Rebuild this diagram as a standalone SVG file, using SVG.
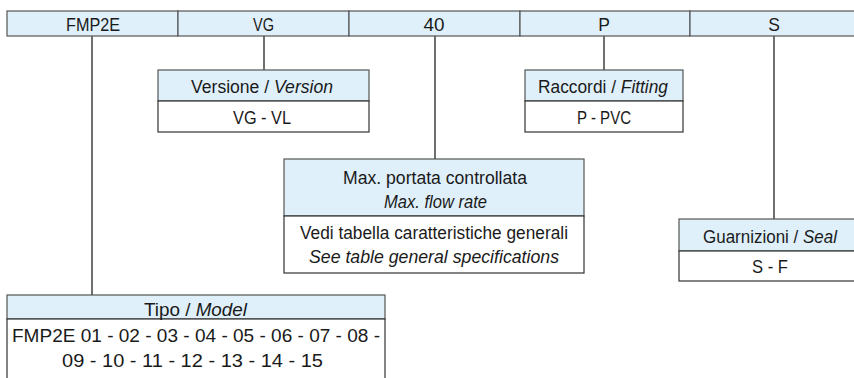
<svg xmlns="http://www.w3.org/2000/svg" width="854" height="378" viewBox="0 0 854 378">
<style>
.hd{fill:#dff0fa;stroke:#555;stroke-width:1.2}
.bd{fill:#fff;stroke:#333;stroke-width:1.2}
.ln{stroke:#333;stroke-width:1.4;fill:none}
text{font-family:"Liberation Sans",Arial,sans-serif;font-size:17.5px;fill:#1a1a1a;text-anchor:middle}
.it{font-style:italic}
</style>
<rect width="854" height="378" fill="#fff"/>
<g id="connectors">
<line class="ln" x1="92" y1="36" x2="92" y2="295"/>
<line class="ln" x1="264" y1="36" x2="264" y2="70"/>
<line class="ln" x1="435" y1="36" x2="435" y2="159"/>
<line class="ln" x1="604" y1="36" x2="604" y2="70"/>
<line class="ln" x1="774" y1="36" x2="774" y2="219"/>
</g>
<g id="header">
<rect class="hd" x="7" y="11" width="171" height="25"/>
<rect class="hd" x="178" y="11" width="171" height="25"/>
<rect class="hd" x="349" y="11" width="171" height="25"/>
<rect class="hd" x="520" y="11" width="170" height="25"/>
<rect class="hd" x="690" y="11" width="170" height="25"/>
<text x="93" y="31" textLength="54" lengthAdjust="spacingAndGlyphs">FMP2E</text>
<text x="263.5" y="31" textLength="21" lengthAdjust="spacingAndGlyphs">VG</text>
<text x="434" y="31" textLength="21" lengthAdjust="spacingAndGlyphs">40</text>
<text x="604" y="31">P</text>
<text x="774" y="31">S</text>
</g>
<g id="versione">
<rect class="hd" x="158" y="70" width="211" height="31"/>
<rect class="bd" x="158" y="101" width="211" height="31"/>
<text x="262" y="93" textLength="142" lengthAdjust="spacingAndGlyphs">Versione / <tspan class="it">Version</tspan></text>
<text x="262" y="124" textLength="58" lengthAdjust="spacingAndGlyphs">VG - VL</text>
</g>
<g id="raccordi">
<rect class="hd" x="525" y="70" width="158" height="31"/>
<rect class="bd" x="525" y="101" width="158" height="31"/>
<text x="603" y="93" textLength="130" lengthAdjust="spacingAndGlyphs">Raccordi / <tspan class="it">Fitting</tspan></text>
<text x="604" y="124" textLength="54" lengthAdjust="spacingAndGlyphs">P - PVC</text>
</g>
<g id="portata">
<rect class="hd" x="284" y="159" width="300" height="57"/>
<rect class="bd" x="284" y="216" width="300" height="57"/>
<text x="435" y="184" textLength="184" lengthAdjust="spacingAndGlyphs">Max. portata controllata</text>
<text x="435.5" y="208" class="it" textLength="103" lengthAdjust="spacingAndGlyphs">Max. flow rate</text>
<text x="434" y="239" textLength="268" lengthAdjust="spacingAndGlyphs">Vedi tabella caratteristiche generali</text>
<text x="434" y="263" class="it" textLength="250" lengthAdjust="spacingAndGlyphs">See table general specifications</text>
</g>
<g id="guarnizioni">
<rect class="hd" x="679" y="219" width="182" height="32"/>
<rect class="bd" x="679" y="251" width="182" height="30"/>
<text x="770" y="243" textLength="134" lengthAdjust="spacingAndGlyphs">Guarnizioni / <tspan class="it">Seal</tspan></text>
<text x="770" y="273" textLength="36" lengthAdjust="spacingAndGlyphs">S - F</text>
</g>
<g id="tipo">
<rect class="hd" x="7" y="295" width="378" height="24"/>
<rect class="bd" x="7" y="319" width="378" height="70"/>
<text x="195.5" y="316" textLength="103" lengthAdjust="spacingAndGlyphs">Tipo / <tspan class="it">Model</tspan></text>
<text x="196" y="342" textLength="368" lengthAdjust="spacingAndGlyphs">FMP2E 01 - 02 - 03 - 04 - 05 - 06 - 07 - 08 -</text>
<text x="192.5" y="367" textLength="261" lengthAdjust="spacingAndGlyphs">09 - 10 - 11 - 12 - 13 - 14 - 15</text>
</g>
</svg>
